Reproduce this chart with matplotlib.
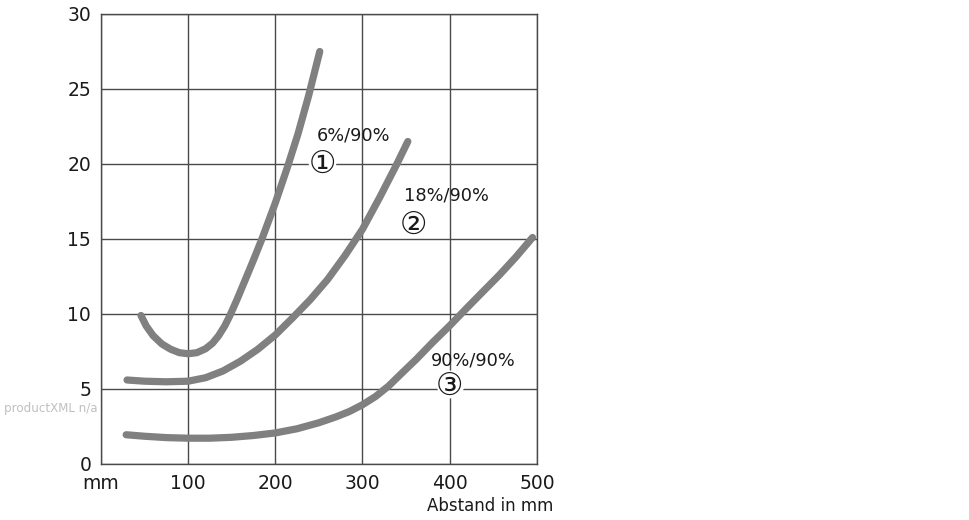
import numpy as np
import matplotlib
matplotlib.use("Agg")
import matplotlib.pyplot as plt

plt.rcParams['font.family'] = ['DejaVu Sans', 'Noto Sans CJK JP']

# curve 1: 6%/90%
c1_x = [46, 52, 60, 70, 80, 90, 100, 110, 120, 128, 135, 142, 148, 156, 165, 175, 185, 200, 214, 226, 238, 251]
c1_y = [9.9, 9.2, 8.55, 8.0, 7.65, 7.42, 7.35, 7.42, 7.68, 8.05, 8.55, 9.2, 9.9, 10.95, 12.2, 13.6, 15.05, 17.4, 19.8, 22.0, 24.5, 27.5]
# curve 2: 18%/90%
c2_x = [30, 50, 75, 100, 120, 140, 160, 180, 200, 220, 240, 260, 280, 300, 320, 339, 352]
c2_y = [5.6, 5.52, 5.48, 5.52, 5.75, 6.2, 6.85, 7.65, 8.6, 9.75, 10.95, 12.3, 13.9, 15.65, 17.8, 19.95, 21.5]
# curve 3: 90%/90%
c3_x = [29, 50, 75, 100, 125, 150, 175, 200, 225, 250, 270, 285, 300, 315, 330, 345, 362, 380, 400, 420, 440, 457, 476, 495]
c3_y = [1.95, 1.85, 1.76, 1.72, 1.72, 1.78, 1.9, 2.07, 2.35, 2.75, 3.15, 3.5, 3.95, 4.5, 5.2, 6.05, 7.0, 8.08, 9.22, 10.42, 11.6, 12.6, 13.8, 15.1]

x_ticks = [0, 100, 200, 300, 400, 500]
x_labels = ['mm', '100', '200', '300', '400', '500']
y_ticks = [0, 5, 10, 15, 20, 25, 30]

labels = ['6%/90%', '18%/90%', '90%/90%']
markers = ['\u2460', '\u2461', '\u2462']
label_pos = [(290, 21.9), (396, 17.9), (427, 6.9)]
marker_pos = [(254, 19.95), (358, 15.9), (400, 5.2)]

fig = plt.figure(figsize=(9.7, 5.2), dpi=100)
ax = fig.add_axes([0.104, 0.1077, 0.4495, 0.8654])

grid_col = '#4a4a4a'
ax.set_xlim(0, 500)
ax.set_ylim(0, 30)
ax.set_xticks(x_ticks)
ax.set_xticklabels(x_labels)
ax.set_yticks(y_ticks)
ax.grid(True, color=grid_col, linewidth=1.0)
ax.tick_params(length=0, labelsize=13.5, pad=7, colors='#1a1a1a')
for s in ax.spines.values():
    s.set_color(grid_col)
    s.set_linewidth(1.0)

curve_col = '#808080'
for xs, ys in [(c1_x, c1_y), (c2_x, c2_y), (c3_x, c3_y)]:
    ax.plot(xs, ys, color=curve_col, linewidth=5.2, solid_capstyle='round',
            solid_joinstyle='round', zorder=3)

for lab, (lx, ly) in zip(labels, label_pos):
    ax.text(lx, ly, lab, fontsize=12.8, ha='center', va='center', color='#1a1a1a', zorder=4)
for m, (mx, my) in zip(markers, marker_pos):
    ax.plot(mx, my + 0.15, 'o', color='white', markersize=19, zorder=3.5)
    ax.text(mx, my, m, fontsize=22, ha='center', va='center', color='#1a1a1a', zorder=4)

fig.text(0.570, 0.01, 'Abstand in mm', fontsize=12, ha='right', va='bottom', color='#1a1a1a')
fig.text(0.004, 0.215, 'productXML n/a', fontsize=8.6, ha='left', va='center', color='#c0c0c0')

fig.savefig('out.png', dpi=100)
